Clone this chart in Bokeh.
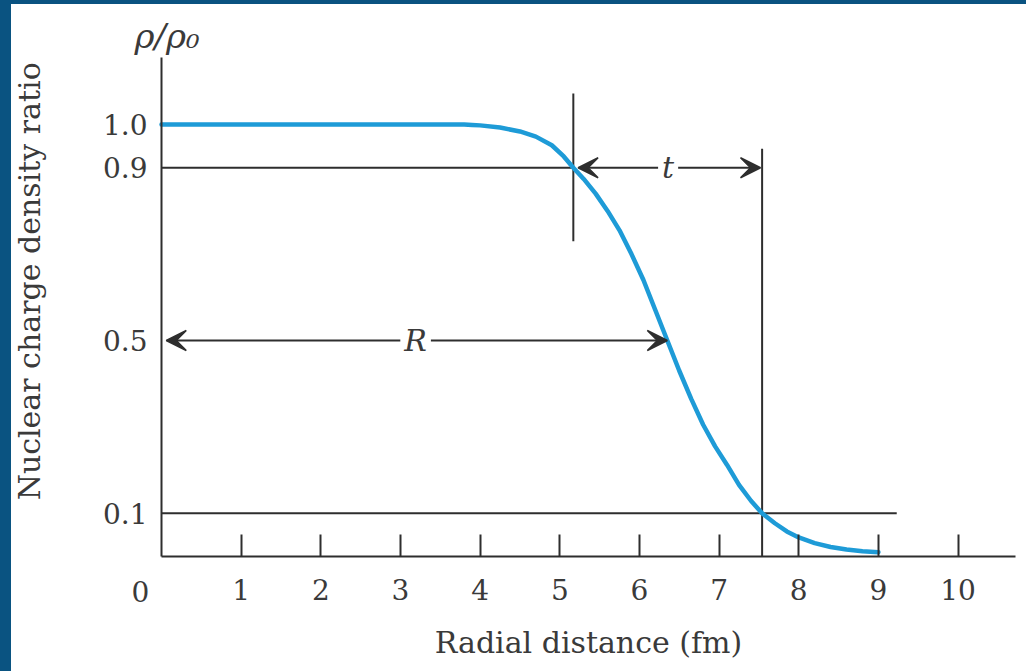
import math
from bokeh.plotting import figure
from bokeh.models import (Range1d, FixedTicker, Label, Arrow, VeeHead,
                          GlobalInlineStyleSheet)
from bokeh.embed import file_html
from bokeh.resources import INLINE

# ---- data ----
r_fm = [0, 1, 2, 3, 3.8, 3.9, 4.0, 4.25, 4.5, 4.7, 4.9, 5.05, 5.17, 5.3,
        5.45, 5.6, 5.75, 5.9, 6.05, 6.2, 6.35, 6.5, 6.65, 6.8, 6.95, 7.1,
        7.25, 7.4, 7.54, 7.7, 7.85, 8.0, 8.2, 8.4, 8.6, 8.8, 9.0]
rho_ratio = [1.0, 1.0, 1.0, 1.0, 1.0, 0.999, 0.998, 0.993, 0.984, 0.972,
             0.952, 0.926, 0.9, 0.874, 0.84, 0.80, 0.755, 0.70, 0.64, 0.57,
             0.5, 0.43, 0.365, 0.305, 0.255, 0.212, 0.166, 0.129, 0.10,
             0.077, 0.058, 0.044, 0.031, 0.022, 0.016, 0.012, 0.01]

x_ticks = [1, 2, 3, 4, 5, 6, 7, 8, 9, 10]
y_ticks = [0.1, 0.5, 0.9, 1.0]
y_tick_labels = ["0.1", "0.5", "0.9", "1.0"]

r_90 = 5.17      # radius where rho/rho0 = 0.9
r_10 = 7.54      # radius where rho/rho0 = 0.1
R_half = 6.35    # radius where rho/rho0 = 0.5

FONT = "DejaVu Serif"
TXT = "#3a3a3a"
LINE = "#2e2e2e"
CURVE = "#1e9bd7"
FRAME_BLUE = "#0a5381"

X_AXIS_END = 10.72
Y_AXIS_END = 1.155

p = figure(width=1015, height=667,
           x_range=Range1d(-1.883, 10.859), y_range=Range1d(-0.2662, 1.2778),
           output_backend="svg", toolbar_location=None,
           min_border_left=0, min_border_right=0,
           min_border_top=0, min_border_bottom=0)
p.grid.visible = False
p.outline_line_color = None
p.background_fill_color = "white"
p.border_fill_color = "white"

# x axis (placed at y = 0)
xa = p.xaxis[0]
xa.fixed_location = 0
xa.bounds = (0, X_AXIS_END)
xa.ticker = FixedTicker(ticks=x_ticks)
xa.major_tick_in = 22
xa.major_tick_out = 0
xa.minor_tick_line_color = None
xa.axis_line_width = 2
xa.axis_line_color = LINE
xa.major_tick_line_width = 2
xa.major_tick_line_color = LINE
xa.major_label_text_font = FONT
xa.major_label_text_font_size = "28px"
xa.major_label_text_color = TXT
xa.major_label_standoff = 22
xa.axis_label = "Radial distance (fm)"
xa.axis_label_text_font = FONT
xa.axis_label_text_font_style = "normal"
xa.axis_label_text_font_size = "30px"
xa.axis_label_text_color = TXT
xa.axis_label_standoff = 22

# y axis (placed at x = 0)
ya = p.yaxis[0]
ya.fixed_location = 0
ya.bounds = (0, Y_AXIS_END)
ya.ticker = FixedTicker(ticks=y_ticks)
ya.major_label_overrides = {t: s for t, s in zip(y_ticks, y_tick_labels)}
ya.major_tick_in = 0
ya.major_tick_out = 0
ya.minor_tick_line_color = None
ya.axis_line_width = 2
ya.axis_line_color = LINE
ya.major_label_text_font = FONT
ya.major_label_text_font_size = "28px"
ya.major_label_text_color = TXT
ya.major_label_standoff = 14

# y axis title, placed by hand (it sits above the axis centre in the original)
p.add_layout(Label(x=-1.66, y=0.637, text="Nuclear charge density ratio",
                   angle=math.pi / 2, text_align="center",
                   text_baseline="middle", text_font=FONT,
                   text_font_size="30px", text_color=TXT))

# guide lines
p.segment(x0=[0, r_90, r_10, 0], y0=[0.9, 0.73, 0, 0.1],
          x1=[r_90, r_90, r_10, 9.23], y1=[0.9, 1.072, 0.944, 0.1],
          line_color=LINE, line_width=2)

# density curve
p.line(r_fm, rho_ratio, line_color=CURVE, line_width=4.5,
       line_join="round", line_cap="round")

# arrows
def head():
    return VeeHead(size=20, fill_color=LINE, line_color=LINE, line_width=1.5)

p.add_layout(Arrow(start=head(), end=head(), x_start=0.06, y_start=0.5,
                   x_end=R_half, y_end=0.5, line_color=LINE, line_width=2))
p.add_layout(Arrow(start=head(), end=head(), x_start=r_90 + 0.06, y_start=0.9,
                   x_end=r_10 - 0.02, y_end=0.9, line_color=LINE, line_width=2))

# labels on arrows
p.add_layout(Label(x=3.19, y=0.5, text="R", text_align="center",
                   text_baseline="middle", text_font=FONT,
                   text_font_style="italic", text_font_size="30px",
                   text_color=TXT, background_fill_color="white", padding=4))
p.add_layout(Label(x=6.36, y=0.9, text="t", text_align="center",
                   text_baseline="middle", text_font=FONT,
                   text_font_style="italic", text_font_size="30px",
                   text_color=TXT, background_fill_color="white", padding=4))

# origin label and quantity label above the y axis
p.add_layout(Label(x=-0.264, y=-0.081, text="0", text_align="center",
                   text_baseline="middle", text_font=FONT,
                   text_font_size="28px", text_color=TXT))
p.add_layout(Label(x=0.07, y=1.206, text="ρ/ρ₀", text_align="center",
                   text_baseline="alphabetic", text_font=FONT,
                   text_font_style="italic", text_font_size="34px",
                   text_color=TXT))

p.stylesheets = [GlobalInlineStyleSheet(css=(
    "html, body { margin: 0 !important; padding: 0; overflow: hidden; "
    "background: #ffffff; } "
    "body { border-left: 11px solid " + FRAME_BLUE + "; "
    "border-top: 4px solid " + FRAME_BLUE + "; }"))]

open("out.html", "w").write(file_html(p, INLINE))
